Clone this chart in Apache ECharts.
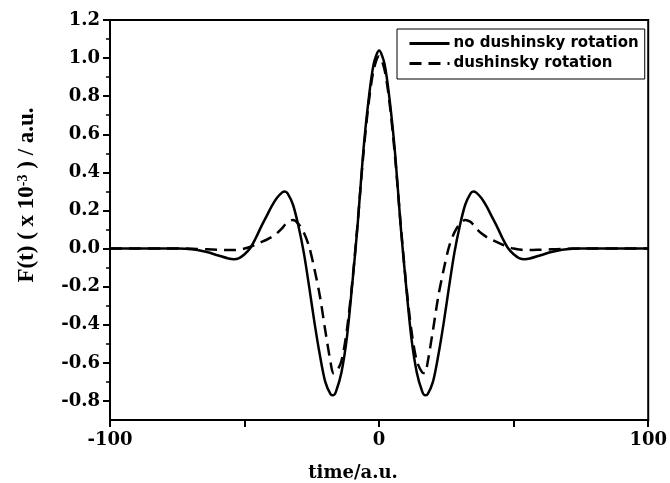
<!DOCTYPE html>
<html><head><meta charset="utf-8">
<script src="https://cdn.jsdelivr.net/npm/echarts@6/dist/echarts.min.js"></script>
<style>html,body{margin:0;padding:0;background:#fff}#c{width:670px;height:483px}</style>
</head><body><div id="c"></div>
<script>
const seriesNames = ['no dushinsky rotation', 'dushinsky rotation'];
const timePoints = [-100,-90,-80,-76,-72,-68,-64,-60,-56,-54,-52,-50,-48,-46,-44,-42,-40,-38,-36,-35,-34,-32,-30,-28,-26,-24,-22,-20,-18,-17,-16,-14,-12,-10,-8,-6,-4,-2,0,
  2,4,6,8,10,12,14,16,17,18,20,22,24,26,28,30,32,34,35,36,38,40,42,44,46,48,50,52,54,56,60,64,68,72,76,80,90,100];
const noRotation = [0,0,0.001,0,-0.001,-0.006,-0.018,-0.035,-0.052,-0.056,-0.05,-0.03,0,0.05,0.11,0.165,0.22,0.265,0.295,0.30,0.29,0.23,0.12,-0.02,-0.20,-0.39,-0.56,-0.70,-0.765,-0.77,-0.75,-0.65,-0.47,-0.19,0.12,0.49,0.77,0.97,1.04,
  0.97,0.77,0.49,0.12,-0.19,-0.47,-0.65,-0.75,-0.77,-0.765,-0.70,-0.56,-0.39,-0.20,-0.02,0.12,0.23,0.29,0.30,0.295,0.265,0.22,0.165,0.11,0.05,0,-0.03,-0.05,-0.056,-0.052,-0.035,-0.018,-0.006,-0.001,0,0.001,0,0];
const withRotation = [0,0,0,0,0,-0.002,-0.004,-0.006,-0.008,-0.008,-0.005,0,0.008,0.02,0.033,0.045,0.06,0.08,0.107,0.125,0.14,0.15,0.13,0.085,0.01,-0.11,-0.25,-0.43,-0.60,-0.655,-0.65,-0.59,-0.43,-0.18,0.13,0.47,0.75,0.94,1.01,
  0.94,0.75,0.47,0.13,-0.18,-0.43,-0.59,-0.65,-0.655,-0.60,-0.43,-0.25,-0.11,0.01,0.085,0.13,0.15,0.14,0.125,0.107,0.08,0.06,0.045,0.033,0.02,0.008,0,-0.005,-0.008,-0.008,-0.006,-0.004,-0.002,0,0,0,0,0];
const xTickValues = [-100,-50,0,50,100];
const xLabelValues = [-100,0,100];
const yMajorTicks = [-0.8,-0.6,-0.4,-0.2,0,0.2,0.4,0.6,0.8,1.0,1.2];
const yMinorTicks = [-0.7,-0.5,-0.3,-0.1,0.1,0.3,0.5,0.7,0.9,1.1];
const xName = 'time/a.u.';
const yName = 'F(t) ( x 10{sup|-3} ) / a.u.';

const serif = 'DejaVu Serif';
const chart = echarts.init(document.getElementById('c'));
const zip = (ys) => timePoints.map((t, i) => [t, ys[i]]);
chart.setOption({
  animation: false,
  backgroundColor: '#fff',
  grid: { left: 110, right: 21, top: 20, bottom: 63, show: true, borderColor: '#000', borderWidth: 2 },
  xAxis: {
    type: 'value', min: -100, max: 100, interval: 50,
    axisLine: { onZero: false, lineStyle: { color: '#000', width: 2 } },
    axisTick: { length: 7, customValues: xTickValues, lineStyle: { color: '#000', width: 2 } },
    splitLine: { show: false },
    axisLabel: { customValues: xLabelValues, color: '#000', fontFamily: serif, fontWeight: 'bold', fontSize: 18, margin: 11,
      formatter: v => String(v) }
  },
  yAxis: [{
    type: 'value', min: -0.9, max: 1.2,
    axisLine: { onZero: false, lineStyle: { color: '#000', width: 2 } },
    axisTick: { length: 7, customValues: yMajorTicks, lineStyle: { color: '#000', width: 2 } },
    splitLine: { show: false },
    axisLabel: { customValues: yMajorTicks, color: '#000', fontFamily: serif, fontWeight: 'bold', fontSize: 18, margin: 10,
      formatter: v => v.toFixed(1) }
  }, {
    type: 'value', min: -0.9, max: 1.2, position: 'left',
    axisLine: { show: false, onZero: false },
    axisTick: { show: true, length: 4, customValues: yMinorTicks, lineStyle: { color: '#000', width: 1.5 } },
    axisLabel: { show: false },
    splitLine: { show: false }
  }],
  legend: {
    orient: 'vertical', left: 397, top: 29,
    padding: [7, 6, 8, 11], itemGap: 5, itemWidth: 40, itemHeight: 14,
    borderColor: '#000', borderWidth: 1,
    itemStyle: { opacity: 0 },
    lineStyle: { width: 3 },
    textStyle: { fontFamily: 'DejaVu Sans', fontWeight: 'bold', fontSize: 15, color: '#000', lineHeight: 15, padding: [0, 0, 0, -1] },
    data: seriesNames
  },
  graphic: [
    { type: 'text', x: 353, y: 473, style: { text: xName, fontFamily: serif, fontWeight: 'bold', fontSize: 18, fill: '#000', align: 'center', verticalAlign: 'middle' } },
    { type: 'text', x: 27, y: 195, rotation: Math.PI / 2,
      style: { text: yName, fontFamily: 'Liberation Serif', fontWeight: 'bold', fontSize: 23, fill: '#000', align: 'center', verticalAlign: 'middle', lineHeight: 26,
        rich: { sup: { fontFamily: 'Liberation Serif', fontWeight: 'bold', fontSize: 14, lineHeight: 14, padding: [0, 0, 10, 0], verticalAlign: 'bottom' } } } }
  ],
  series: [
    { name: seriesNames[0], type: 'line', data: zip(noRotation), smooth: 0.3, symbol: 'none',
      lineStyle: { color: '#000', width: 2.5 }, itemStyle: { color: '#000' } },
    { name: seriesNames[1], type: 'line', data: zip(withRotation), smooth: 0.3, symbol: 'none',
      lineStyle: { color: '#000', width: 2.5, type: [12, 7] }, itemStyle: { color: '#000' } }
  ]
});
</script></body></html>
